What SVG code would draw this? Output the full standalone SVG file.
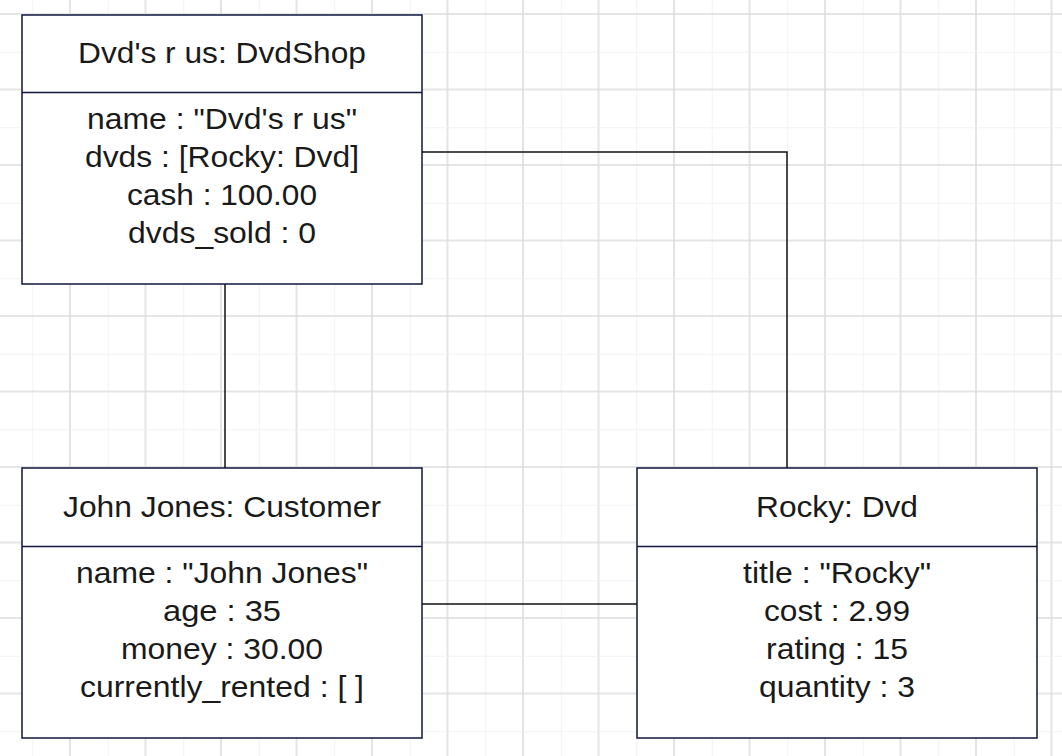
<svg xmlns="http://www.w3.org/2000/svg" width="1062" height="756" viewBox="0 0 1062 756">
<style>
.box{fill:#fff;stroke:#11163f;stroke-width:1.5}
.div{stroke:#11163f;stroke-width:1.5}
.t{font-family:"Liberation Sans",Arial,sans-serif;font-size:30px;fill:#1a1a1a;text-anchor:middle}
.c{fill:none;stroke:#111;stroke-width:1.5}
</style>
<defs>
<pattern id="grid" x="32.25" y="-23.75" width="75.5" height="75.5" patternUnits="userSpaceOnUse">
<line x1="0" y1="0" x2="0" y2="75.5" stroke="#efefef" stroke-width="1.5"/>
<line x1="37.75" y1="0" x2="37.75" y2="75.5" stroke="#dcdcdc" stroke-width="1.5"/>
<line x1="0" y1="0" x2="75.5" y2="0" stroke="#efefef" stroke-width="1.5"/>
<line x1="0" y1="37.75" x2="75.5" y2="37.75" stroke="#dcdcdc" stroke-width="1.5"/>
</pattern>
</defs>
<rect width="1062" height="756" fill="#fff"/>
<rect width="1062" height="756" fill="url(#grid)"/>
<g id="connectors">
<line class="c" x1="225" y1="284" x2="225" y2="468"/>
<polyline class="c" points="422,152 787,152 787,468"/>
<line class="c" x1="422" y1="604" x2="637" y2="604"/>
</g>
<g id="shop">
<rect class="box" x="22" y="15" width="400" height="269"/>
<line class="div" x1="22" y1="92.5" x2="422" y2="92.5"/>
<text class="t" x="222" y="63" textLength="288" lengthAdjust="spacingAndGlyphs">Dvd's r us: DvdShop</text>
<text class="t" x="222" y="129" textLength="270" lengthAdjust="spacingAndGlyphs">name : "Dvd's r us"</text>
<text class="t" x="222" y="167" textLength="274" lengthAdjust="spacingAndGlyphs">dvds : [Rocky: Dvd]</text>
<text class="t" x="222" y="205" textLength="190" lengthAdjust="spacingAndGlyphs">cash : 100.00</text>
<text class="t" x="222" y="243" textLength="188" lengthAdjust="spacingAndGlyphs">dvds_sold : 0</text>
</g>
<g id="customer">
<rect class="box" x="22" y="468" width="400" height="270"/>
<line class="div" x1="22" y1="546.5" x2="422" y2="546.5"/>
<text class="t" x="222" y="517" textLength="318" lengthAdjust="spacingAndGlyphs">John Jones: Customer</text>
<text class="t" x="222" y="583" textLength="292" lengthAdjust="spacingAndGlyphs">name : "John Jones"</text>
<text class="t" x="222" y="621" textLength="118" lengthAdjust="spacingAndGlyphs">age : 35</text>
<text class="t" x="222" y="659" textLength="202" lengthAdjust="spacingAndGlyphs">money : 30.00</text>
<text class="t" x="222" y="697" textLength="284" lengthAdjust="spacingAndGlyphs">currently_rented : [ ]</text>
</g>
<g id="dvd">
<rect class="box" x="637" y="468" width="400" height="270"/>
<line class="div" x1="637" y1="546.5" x2="1037" y2="546.5"/>
<text class="t" x="837" y="517" textLength="162" lengthAdjust="spacingAndGlyphs">Rocky: Dvd</text>
<text class="t" x="837" y="583" textLength="188" lengthAdjust="spacingAndGlyphs">title : "Rocky"</text>
<text class="t" x="837" y="621" textLength="146" lengthAdjust="spacingAndGlyphs">cost : 2.99</text>
<text class="t" x="837" y="659" textLength="142" lengthAdjust="spacingAndGlyphs">rating : 15</text>
<text class="t" x="837" y="697" textLength="156" lengthAdjust="spacingAndGlyphs">quantity : 3</text>
</g>
</svg>
